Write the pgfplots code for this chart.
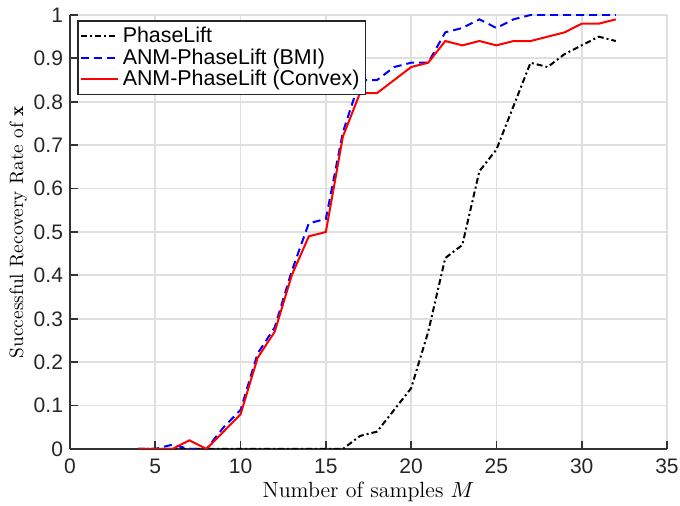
\documentclass[border=0pt]{standalone}
\usepackage{pgfplots}
\pgfplotsset{compat=1.18}
\usepackage{fontspec}
\setsansfont{Liberation Sans}
\begin{document}
\begin{tikzpicture}
\begin{axis}[
    name=ax,
    scale only axis,
    width=298.5pt, height=217pt,
    xmin=0, xmax=35, ymin=0, ymax=1,
    xtick={0,5,...,35},
    ytick={0,0.1,...,1.0},
    yticklabel style={/pgf/number format/fixed},
    xticklabel style={yshift=-1.5pt},
    axis x line=bottom, axis y line=left,
    axis line style={-, line width=1pt, black!80},
    tick style={black!80, line width=0.9pt},
    major tick length=4pt,
    tick align=inside,
    grid=major,
    grid style={line width=0.9pt, gray!25},
    ticklabel style={font=\sffamily\fontsize{10.5}{12}\selectfont, text=black!85},
    /pgf/number format/assume math mode=true,
    xlabel={Number of samples $M$},
    ylabel={Successful Recovery Rate of $\mathbf{x}$},
    xlabel style={font=\fontsize{11}{13}\selectfont, yshift=3pt},
    ylabel style={font=\fontsize{9.65}{12}\selectfont, yshift=-3.5pt},
    legend cell align=left,
    legend style={at={(0.0117,0.988)}, anchor=north west,
        font=\sffamily\fontsize{10.7}{12}\selectfont,
        draw=black!85, line width=0.8pt, inner sep=1pt,
        row sep=-2.5pt, fill=white},
    legend image code/.code={\draw[#1] (0cm,0cm) -- (0.65cm,0cm);},
]
\addplot[black, line width=1pt, dash pattern=on 3pt off 1.5pt on 1pt off 1.5pt] coordinates {
(4,0)(5,0)(6,0)(7,0)(8,0)(9,0)(10,0)(11,0)(12,0)(13,0)(14,0)(15,0)(16,0)
(17,0.03)(18,0.04)(19,0.09)(20,0.14)(21,0.27)(22,0.44)(23,0.47)(24,0.64)
(25,0.69)(26,0.79)(27,0.89)(28,0.88)(29,0.91)(30,0.93)(31,0.95)(32,0.94)};
\addlegendentry{PhaseLift}
\addplot[blue, line width=1pt, dash pattern=on 4pt off 2.5pt] coordinates {
(4,0)(5,0)(6,0.01)(7,0)(8,0)(9,0.05)(10,0.09)(11,0.22)(12,0.28)(13,0.41)
(14,0.52)(15,0.53)(16,0.73)(17,0.85)(18,0.85)(19,0.88)(20,0.89)(21,0.89)
(22,0.96)(23,0.97)(24,0.99)(25,0.97)(26,0.99)(27,1)(28,1)(29,1)(30,1)(31,1)(32,1)};
\addlegendentry{ANM-PhaseLift (BMI)}
\addplot[red, line width=1pt] coordinates {
(4,0)(5,0)(6,0)(7,0.02)(8,0)(9,0.04)(10,0.08)(11,0.21)(12,0.27)(13,0.40)
(14,0.49)(15,0.50)(16,0.72)(17,0.82)(18,0.82)(19,0.85)(20,0.88)(21,0.89)
(22,0.94)(23,0.93)(24,0.94)(25,0.93)(26,0.94)(27,0.94)(28,0.95)(29,0.96)
(30,0.98)(31,0.98)(32,0.99)};
\addlegendentry{ANM-PhaseLift (Convex)}
\end{axis}
\pgfresetboundingbox
\path ([xshift=-35pt,yshift=-28.5pt]ax.south west) rectangle ([xshift=6.5pt,yshift=7.5pt]ax.north east);
\end{tikzpicture}
\end{document}
